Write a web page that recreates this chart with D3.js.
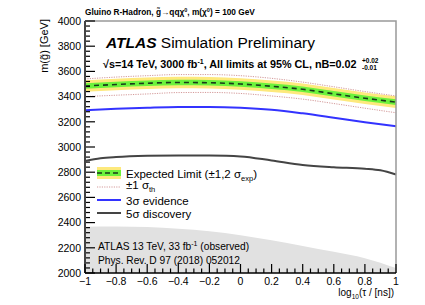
<!DOCTYPE html>
<html>
<head>
<meta charset="utf-8">
<script src="https://cdn.jsdelivr.net/npm/d3@7"></script>
<style>
body { margin: 0; background: #fff; }
text { font-family: "Liberation Sans", Arial, sans-serif; }
</style>
</head>
<body>
<svg width="425" height="305"></svg>
<script>
// lifetime axis, log10(tau/ns)
var xs = [-1, -0.8, -0.6, -0.4, -0.2, 0, 0.2, 0.4, 0.6, 0.8, 1];

var expected = [3484, 3496, 3506, 3512, 3510, 3500, 3482, 3458, 3422, 3387, 3356];
var exp1sig = [22, 22, 22, 22, 22, 22, 22, 22, 22, 22, 22];
var exp2sig = [46, 46, 46, 46, 46, 46, 46, 46, 46, 46, 46];
var thUp = [3540, 3555, 3566, 3575, 3575, 3566, 3545, 3515, 3478, 3440, 3405];
var thDown = [3400, 3411, 3421, 3432, 3433, 3425, 3405, 3380, 3345, 3308, 3272];
var evidence3 = [3292, 3303, 3312, 3318, 3318, 3312, 3296, 3267, 3232, 3196, 3164];

var xs5 = [-1, -0.9, -0.8, -0.6, -0.4, -0.2, 0, 0.2, 0.4, 0.6, 0.8, 0.9, 1];
var discovery5 = [2890, 2910, 2920, 2930, 2933, 2932, 2925, 2893, 2858, 2840, 2828, 2815, 2782];

var observed13 = [2368, 2370, 2365, 2352, 2332, 2300, 2260, 2215, 2168, 2118, 2040];

var yTicks = [2000, 2200, 2400, 2600, 2800, 3000, 3200, 3400, 3600, 3800, 4000];
var xTicks = [-1, -0.8, -0.6, -0.4, -0.2, 0, 0.2, 0.4, 0.6, 0.8, 1];

var svg = d3.select("svg");
var pL = 85, pR = 396, pT = 21, pB = 273;

var x = d3.scaleLinear().domain([-1, 1]).range([pL, pR]);
var y = d3.scaleLinear().domain([2000, 4000]).range([pB, pT]);

var curve = d3.curveMonotoneX;

// observed 13 TeV exclusion (grey)
svg.append("path")
  .attr("d", d3.area().curve(curve)
    .x(function(d, i) { return x(xs[i]); })
    .y0(y(2000)).y1(function(d) { return y(d); })(observed13))
  .attr("fill", "#e1e1e1");

// yellow +-2 sigma
svg.append("path")
  .attr("d", d3.area().curve(curve)
    .x(function(d, i) { return x(xs[i]); })
    .y0(function(d, i) { return y(d - exp2sig[i]); })
    .y1(function(d, i) { return y(d + exp2sig[i]); })(expected))
  .attr("fill", "#fde97c");

// green +-1 sigma
svg.append("path")
  .attr("d", d3.area().curve(curve)
    .x(function(d, i) { return x(xs[i]); })
    .y0(function(d, i) { return y(d - exp1sig[i]); })
    .y1(function(d, i) { return y(d + exp1sig[i]); })(expected))
  .attr("fill", "#6cf23c");

var line = d3.line().curve(curve)
  .x(function(d, i) { return x(xs[i]); })
  .y(function(d) { return y(d); });

svg.append("path").attr("d", line(expected))
  .attr("fill", "none").attr("stroke", "#1a3a1a").attr("stroke-width", 1.6)
  .attr("stroke-dasharray", "5,4");

[thUp, thDown].forEach(function(s) {
  svg.append("path").attr("d", line(s))
    .attr("fill", "none").attr("stroke", "#d49a9a").attr("stroke-width", 1)
    .attr("stroke-dasharray", "1.2,1.2");
});

svg.append("path").attr("d", line(evidence3))
  .attr("fill", "none").attr("stroke", "#3333ff").attr("stroke-width", 2);

svg.append("path")
  .attr("d", d3.line().curve(curve)
    .x(function(d, i) { return x(xs5[i]); })
    .y(function(d) { return y(d); })(discovery5))
  .attr("fill", "none").attr("stroke", "#444444").attr("stroke-width", 2);

// frame
svg.append("path")
  .attr("d", "M" + pL + "," + pT + "H" + pR + "V" + pB)
  .attr("fill", "none").attr("stroke", "#999").attr("stroke-width", 1.5);

// y axis
var yMinor = d3.range(2000, 4001, 40);
var yAxisG = svg.append("g");
yAxisG.selectAll("line.mi").data(yMinor).enter().append("line")
  .attr("x1", pL).attr("x2", function(d) { return pL + (d % 200 === 0 ? 10 : 5); })
  .attr("y1", function(d) { return y(d); }).attr("y2", function(d) { return y(d); })
  .attr("stroke", "#000").attr("stroke-width", 1.2);
yAxisG.selectAll("text").data(yTicks).enter().append("text")
  .attr("x", pL - 4).attr("y", function(d) { return y(d) + 3.8; })
  .attr("text-anchor", "end").attr("font-size", 10.5).text(function(d) { return d; });
yAxisG.append("line").attr("x1", pL).attr("x2", pL).attr("y1", pT).attr("y2", pB)
  .attr("stroke", "#444").attr("stroke-width", 2);

// x axis
var xMinor = d3.range(0, 41).map(function(i) { return -1 + i * 0.05; });
var xAxisG = svg.append("g");
xAxisG.selectAll("line").data(xMinor).enter().append("line")
  .attr("x1", function(d) { return x(d); }).attr("x2", function(d) { return x(d); })
  .attr("y1", pB).attr("y2", function(d, i) { return pB - (i % 4 === 0 ? 9 : 4.5); })
  .attr("stroke", "#000").attr("stroke-width", 1.2);
xAxisG.selectAll("text").data(xTicks).enter().append("text")
  .attr("x", function(d) { return x(d); }).attr("y", pB + 12)
  .attr("text-anchor", "middle").attr("font-size", 10.5)
  .text(function(d) { return d3.format("")(d).replace("-", "\u2212"); });
xAxisG.append("line").attr("x1", pL).attr("x2", pR).attr("y1", pB).attr("y2", pB)
  .attr("stroke", "#000").attr("stroke-width", 1.5);

// axis titles
var xt = svg.append("text").attr("x", pR - 2).attr("y", pB + 23)
  .attr("text-anchor", "end").attr("font-size", 10);
xt.append("tspan").text("log");
xt.append("tspan").attr("font-size", 6.5).attr("dy", 3).text("10");
xt.append("tspan").attr("dy", -3).text("(\u03c4 / [ns])");

svg.append("text").attr("transform", "translate(48,19) rotate(-90)")
  .attr("text-anchor", "end").attr("font-size", 11)
  .text("m(g\u0303) [GeV]");

// top title
var tt = svg.append("text").attr("x", 85).attr("y", 15).attr("font-size", 8.3).attr("font-weight", "bold");
tt.append("tspan").text("Gluino R-Hadron, g\u0303\u2192qq\u03c7");
tt.append("tspan").attr("font-size", 5.5).attr("dy", -3).text("0");
tt.append("tspan").attr("dy", 3).text(", m(\u03c7");
tt.append("tspan").attr("font-size", 5.5).attr("dy", -3).text("0");
tt.append("tspan").attr("dy", 3).text(") = 100 GeV");

// ATLAS label
var at = svg.append("text").attr("x", 106).attr("y", 48).attr("font-size", 15.5);
at.append("tspan").attr("font-weight", "bold").attr("font-style", "italic").text("ATLAS");
at.append("tspan").text(" Simulation Preliminary");

var l2 = svg.append("text").attr("x", 103).attr("y", 68).attr("font-size", 10.8).attr("font-weight", "bold");
l2.append("tspan").text("\u221as=14 TeV, 3000 fb");
l2.append("tspan").attr("font-size", 7).attr("dy", -4).text("-1");
l2.append("tspan").attr("dy", 4).text(", All limits at 95% CL, nB=0.02 ");
svg.append("text").attr("x", 362).attr("y", 63).attr("font-size", 6.5).attr("font-weight", "bold").text("+0.02");
svg.append("text").attr("x", 362).attr("y", 70).attr("font-size", 6.5).attr("font-weight", "bold").text("-0.01");

// legend
var lx1 = 97, lx2 = 121, tx = 126;
var ly = [173, 187, 200, 213];
svg.append("rect").attr("x", lx1).attr("y", ly[0] - 6).attr("width", lx2 - lx1).attr("height", 12).attr("fill", "#fde97c");
svg.append("rect").attr("x", lx1).attr("y", ly[0] - 3).attr("width", lx2 - lx1).attr("height", 6).attr("fill", "#6cf23c");
svg.append("line").attr("x1", lx1).attr("x2", lx2).attr("y1", ly[0]).attr("y2", ly[0])
  .attr("stroke", "#1a3a1a").attr("stroke-width", 1.6).attr("stroke-dasharray", "5,3");
svg.append("line").attr("x1", lx1).attr("x2", lx2).attr("y1", ly[1]).attr("y2", ly[1])
  .attr("stroke", "#d49a9a").attr("stroke-width", 1).attr("stroke-dasharray", "1.2,1.2");
svg.append("line").attr("x1", lx1).attr("x2", lx2).attr("y1", ly[2]).attr("y2", ly[2])
  .attr("stroke", "#3333ff").attr("stroke-width", 2);
svg.append("line").attr("x1", lx1).attr("x2", lx2).attr("y1", ly[3]).attr("y2", ly[3])
  .attr("stroke", "#444444").attr("stroke-width", 2);

var t0 = svg.append("text").attr("x", tx).attr("y", ly[0] + 4.5).attr("font-size", 11.5);
t0.append("tspan").text("Expected Limit (\u00b11,2 \u03c3");
t0.append("tspan").attr("font-size", 7.5).attr("dy", 3).text("exp");
t0.append("tspan").attr("dy", -3).text(")");

var t1 = svg.append("text").attr("x", tx).attr("y", ly[1] + 2).attr("font-size", 11.5);
t1.append("tspan").text("\u00b11 \u03c3");
t1.append("tspan").attr("font-size", 7.5).attr("dy", 2.5).text("th");

svg.append("text").attr("x", tx).attr("y", ly[2] + 4.5).attr("font-size", 11.5).text("3\u03c3 evidence");
svg.append("text").attr("x", tx).attr("y", ly[3] + 4.5).attr("font-size", 11.5).text("5\u03c3 discovery");

// observed reference text
var o1 = svg.append("text").attr("x", 98).attr("y", 250).attr("font-size", 10.2);
o1.append("tspan").text("ATLAS 13 TeV, 33 fb");
o1.append("tspan").attr("font-size", 7).attr("dy", -4).text("-1");
o1.append("tspan").attr("dy", 4).text(" (observed)");
svg.append("text").attr("x", 98).attr("y", 264).attr("font-size", 10.2).text("Phys. Rev. D 97 (2018) 052012");
</script>
</body>
</html>
